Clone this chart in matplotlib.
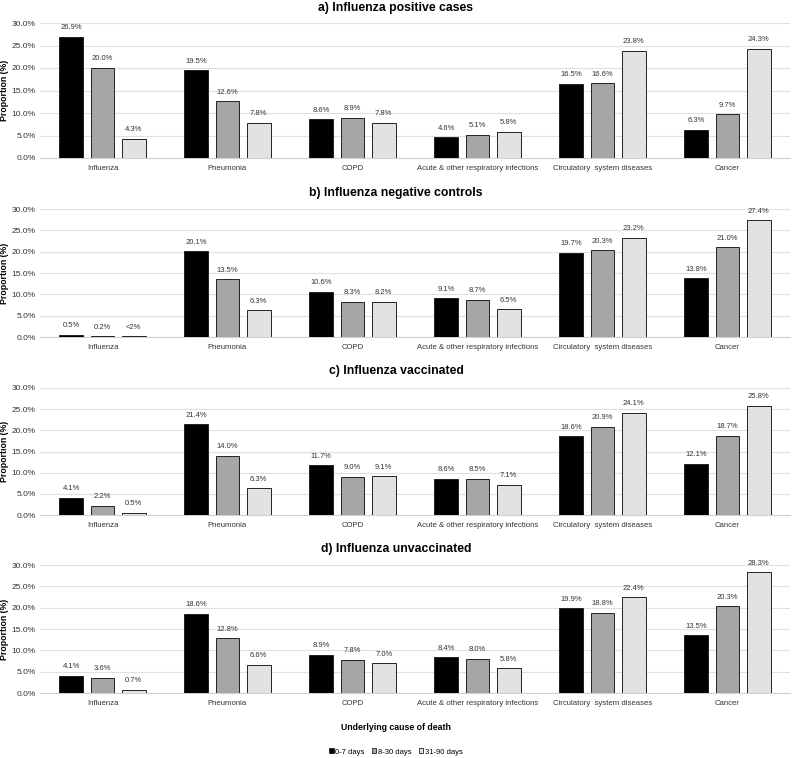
import numpy as np
import matplotlib
matplotlib.use('Agg')
import matplotlib.pyplot as plt
from matplotlib.patches import Patch

plt.rcParams['font.family'] = ['Liberation Sans', 'DejaVu Sans']

causes = ['Influenza', 'Pneumonia', 'COPD', 'Acute & other respiratory infections',
          'Circulatory  system diseases', 'Cancer']
periods = ['0-7 days', '8-30 days', '31-90 days']
colors = ['#000000', '#a6a6a6', '#e2e2e2']

titles = ['a) Influenza positive cases', 'b) Influenza negative controls',
          'c) Influenza vaccinated', 'd) Influenza unvaccinated']

# values per panel: rows = period, cols = cause
pos_cases = [[26.9, 19.5, 8.6, 4.6, 16.5, 6.3],
             [20.0, 12.6, 8.9, 5.1, 16.6, 9.7],
             [4.3, 7.8, 7.8, 5.8, 23.8, 24.3]]
neg_controls = [[0.5, 20.1, 10.6, 9.1, 19.7, 13.8],
                [0.2, 13.5, 8.3, 8.7, 20.3, 21.0],
                [0.2, 6.3, 8.2, 6.5, 23.2, 27.4]]
vaccinated = [[4.1, 21.4, 11.7, 8.6, 18.6, 12.1],
              [2.2, 14.0, 9.0, 8.5, 20.9, 18.7],
              [0.5, 6.3, 9.1, 7.1, 24.1, 25.8]]
unvaccinated = [[4.1, 18.6, 8.9, 8.4, 19.9, 13.5],
                [3.6, 12.8, 7.8, 8.0, 18.8, 20.3],
                [0.7, 6.6, 7.0, 5.8, 22.4, 28.3]]
panels = [pos_cases, neg_controls, vaccinated, unvaccinated]

# special text labels (panel, period, cause) -> label
special = {(1, 2, 0): '<2%'}

fig = plt.figure(figsize=(7.92, 7.58), dpi=100)

# axes positions in pixels: (top, bottom) of plotting area
px = [(23, 158), (209, 337), (388, 515), (565, 693)]
title_y = [8, 193, 371, 549]
H = 758.0
W = 792.0

x = np.arange(len(causes))
bw = 0.19
step = 0.25

for p, data in enumerate(panels):
    top, bot = px[p]
    ax = fig.add_axes([40 / W, 1 - bot / H, 750 / W, (bot - top) / H])
    for k in range(3):
        vals = data[k]
        bars = ax.bar(x + (k - 1) * step, vals, width=bw, color=colors[k],
                      edgecolor='#222222', linewidth=0.7, zorder=3)
        for i, b in enumerate(bars):
            lab = special.get((p, k, i), f'{vals[i]:.1f}%')
            ax.annotate(lab, (b.get_x() + b.get_width() / 2, b.get_height()),
                        xytext=(0, 4), textcoords='offset points',
                        ha='center', va='bottom', fontsize=5.5, color='#333333')
    ax.set_ylim(0, 30)
    ax.set_xlim(-0.5, len(causes) - 0.5)
    ax.set_yticks(np.arange(0, 31, 5))
    ax.set_yticklabels([f'{t:.1f}%' for t in np.arange(0, 31, 5)])
    ax.set_xticks(x)
    ax.set_xticklabels(causes)
    ax.tick_params(axis='y', length=0, labelsize=6, colors='#333333', pad=3)
    ax.tick_params(axis='x', length=0, labelsize=5.6, colors='#333333', pad=5)
    ax.grid(axis='y', color='#e0e0e0', linewidth=0.8, zorder=0)
    for s in ['top', 'right', 'left']:
        ax.spines[s].set_visible(False)
    ax.spines['bottom'].set_color('#d0d0d0')
    ax.spines['bottom'].set_linewidth(0.8)
    ax.set_ylabel('Proportion (%)', fontsize=6.3, fontweight='bold')
    ax.yaxis.set_label_coords(-31 / 750, 0.5)
    fig.text(0.5, 1 - title_y[p] / H, titles[p], ha='center', va='center',
             fontsize=8.8, fontweight='bold')

fig.text(0.5, 1 - 727 / H, 'Underlying cause of death', ha='center', va='center',
         fontsize=6.3, fontweight='bold')

handles = [Patch(facecolor=colors[k], edgecolor='#222222', linewidth=0.6, label=periods[k])
           for k in range(3)]
fig.legend(handles=handles, loc='center', bbox_to_anchor=(0.5, 1 - 752 / H), ncol=3,
           frameon=False, fontsize=5.5, handlelength=0.6, handleheight=0.6,
           handletextpad=0.25, columnspacing=0.9)

fig.savefig('out.png', dpi=100)
